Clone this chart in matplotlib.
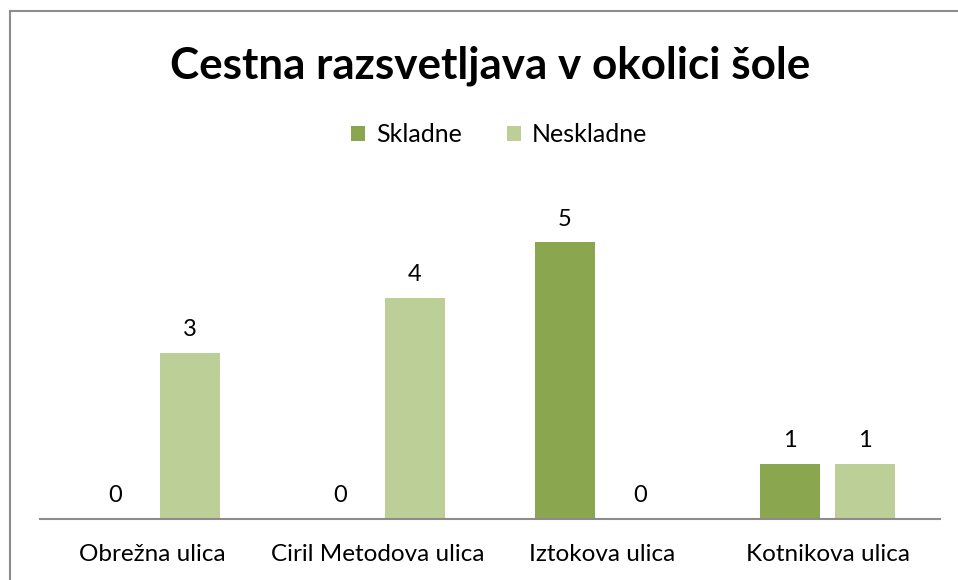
import matplotlib
matplotlib.use("Agg")
import matplotlib.pyplot as plt
from matplotlib.patches import Rectangle
import numpy as np

categories = ["Obrežna ulica", "Ciril Metodova ulica", "Iztokova ulica", "Kotnikova ulica"]
skladne = [0, 0, 5, 1]
neskladne = [3, 4, 0, 1]
series_names = ["Skladne", "Neskladne"]
colors = ["#8AA64E", "#BBCF96"]

plt.rcParams['font.family'] = ['Lato', 'DejaVu Sans']

W, H = 958, 580
fig = plt.figure(figsize=(W / 100, H / 100), dpi=100)

# chart border (left and top visible)
fig.patches.append(Rectangle((10 / W, -0.05), 1.1, (H - 11) / H + 0.05, transform=fig.transFigure,
                             fill=False, edgecolor="#8C8C8C", linewidth=1.5))

ax = fig.add_axes([40 / W, (H - 519) / H, 900 / W, 332 / H])
x = np.arange(len(categories))
bw = 60 / 225
off = 37.5 / 225
b1 = ax.bar(x - off, skladne, bw, color=colors[0], label=series_names[0])
b2 = ax.bar(x + off, neskladne, bw, color=colors[1], label=series_names[1])
for bars, vals in ((b1, skladne), (b2, neskladne)):
    for rect, v in zip(bars, vals):
        ax.annotate(str(v), (rect.get_x() + rect.get_width() / 2, v), xytext=(0, 9),
                    textcoords="offset points", ha="center", va="bottom", fontsize=17, color="#000000")

ax.set_xlim(-0.5, len(categories) - 0.5)
ax.set_ylim(0, 6)
ax.set_xticks(x)
ax.set_xticklabels(categories, fontsize=17.5)
ax.tick_params(axis="x", length=0, pad=18)
ax.set_yticks([])
for s in ("top", "right", "left"):
    ax.spines[s].set_visible(False)
ax.spines["bottom"].set_color("#8C8C8C")
ax.spines["bottom"].set_linewidth(1.5)

fig.text(490 / W, 1 - 66 / H, "Cestna razsvetljava v okolici šole", ha="center", va="center",
         fontsize=31.7, fontweight="bold")
fig.legend(handles=[b1, b2], labels=series_names, loc="center", bbox_to_anchor=(499 / W, 1 - 135 / H),
           ncol=2, frameon=False, fontsize=18, handlelength=0.55, handleheight=0.55,
           handletextpad=0.45, columnspacing=1.8)

fig.savefig("out.png", dpi=100)
